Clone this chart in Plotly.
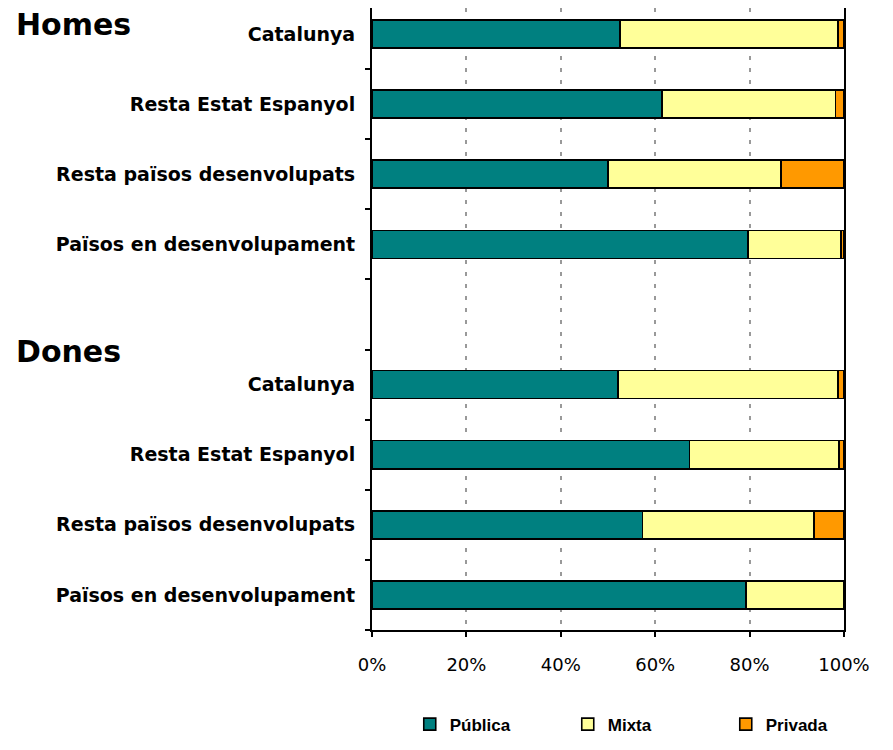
import plotly.graph_objects as go

# origen de la població, per sexe (blank row separa els dos grups)
origens = ["Catalunya", "Resta Estat Espanyol", "Resta països desenvolupats",
           "Països en desenvolupament"]
grups = ["Homes", "Dones"]

# percentatges llegits del gràfic
homes_publica = [52.5, 61.5, 50.0, 79.6]
homes_mixta = [46.2, 36.7, 36.7, 19.8]
homes_privada = [1.3, 1.8, 13.3, 0.6]

dones_publica = [52.1, 67.3, 57.3, 79.2]
dones_mixta = [46.6, 31.7, 36.4, 20.8]
dones_privada = [1.3, 1.0, 6.3, 0.0]

series = ["Pública", "Mixta", "Privada"]
colors = ["#008080", "#FFFF99", "#FF9900"]

x_ticks = [0, 20, 40, 60, 80, 100]

# row positions: homes 0..3, empty row 4, dones 5..8
n = len(origens)
y_homes = list(range(n))
y_dones = [n + 1 + i for i in range(n)]
y_all = y_homes + y_dones
labels_all = origens + origens
y_max = max(y_all)

values = {
    "Pública": homes_publica + dones_publica,
    "Mixta": homes_mixta + dones_mixta,
    "Privada": homes_privada + dones_privada,
}

fig = go.Figure()
for name, col in zip(series, colors):
    fig.add_trace(go.Bar(
        y=y_all, x=values[name], name=name, orientation="h",
        marker=dict(color=col, line=dict(color="#000000", width=1.6)),
        width=0.4,
    ))

label_font = dict(family="DejaVu Sans", size=19, color="#000000", weight="bold")

# page body adds 8px round the figure, so keep the figure inside the window
# autoexpand off: the legend sits low and must not shrink the plot area
fig.update_layout(
    barmode="stack",
    width=877, height=734,
    paper_bgcolor="white", plot_bgcolor="white",
    margin=dict(l=364, r=41, t=0, b=112, autoexpand=False),
    showlegend=True,
    legend=dict(orientation="h", x=0.08, xanchor="left", y=-0.152, yanchor="middle",
                font=dict(family="Liberation Sans Narrow, Liberation Sans", size=17,
                          color="#000000", weight="bold"),
                entrywidth=113, entrywidthmode="pixels", traceorder="normal"),
)

fig.update_xaxes(
    range=[0, 100], tickvals=x_ticks, ticktext=[f"{v}%" for v in x_ticks],
    ticks="outside", ticklen=5, tickwidth=1.5, tickcolor="#000000",
    showline=True, linecolor="#000000", linewidth=2,
    showgrid=True, gridcolor="#999999", gridwidth=2, griddash="4px,8px",
    tickfont=dict(family="DejaVu Sans", size=18, color="#000000"),
    ticklabelstandoff=12, zeroline=False,
)

fig.update_yaxes(
    range=[y_max + 0.5, -0.371],
    tickvals=y_all, ticktext=labels_all, ticks="",
    tickfont=label_font, ticklabelstandoff=11,
    minor=dict(tickvals=[i - 0.5 for i in range(y_max + 2)],
               ticks="outside", ticklen=5, tickwidth=1.5, tickcolor="#000000",
               showgrid=False),
    showline=True, linecolor="#000000", linewidth=2, mirror=True,
    showgrid=False, zeroline=False,
)

# group headings
group_y = [0.973, 0.447]
for g, gy in zip(grups, group_y):
    fig.add_annotation(
        text=g, xref="paper", yref="paper", x=-0.758, y=gy,
        xanchor="left", yanchor="middle", showarrow=False,
        font=dict(family="Arial Black, DejaVu Sans", size=30, color="#000000",
                  weight="bold"),
    )

fig.write_html("out.html")
